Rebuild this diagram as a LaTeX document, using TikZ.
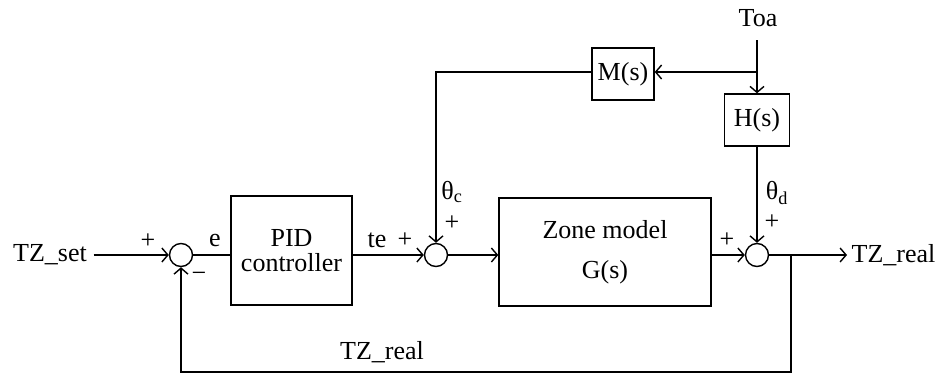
\documentclass[tikz,border=0pt]{standalone}
\usepackage{fontspec}
\setmainfont{Liberation Serif}
\usetikzlibrary{arrows.meta}
\begin{document}
\begin{tikzpicture}[x=1pt,y=-1pt,
  line width=1.4pt,
  every node/.style={font=\fontsize{26}{26}\selectfont, inner sep=0pt},
  sumj/.style={circle, draw, minimum size=23pt, inner sep=0pt},
  blk/.style={draw, align=center},
  arr/.style={-{Straight Barb[length=6pt,width=14pt]}}]
\useasboundingbox[fill=white] (0,0) rectangle (947,378);
% nodes
\node[sumj] (s1) at (181,255) {};
\node[sumj] (s2) at (436,255) {};
\node[sumj] (s3) at (757,255) {};
\node[blk, minimum width=121pt, minimum height=109pt, font=\fontsize{26}{25}\selectfont] (pid) at (291.5,250.5) {PID\\controller};
\node[blk, minimum width=212pt, minimum height=108pt, font=\fontsize{26}{40}\selectfont] (zone) at (605,252) {Zone model\\G(s)};
\node[blk, minimum width=62pt, minimum height=52pt] (M) at (623,74) {M(s)};
\node[blk, minimum width=65pt, minimum height=52pt] (H) at (757,120) {H(s)};
\node (toa) at (758,18) {Toa};
\node (tzset) at (50,255) {TZ\_set};
\node[anchor=west] (tzout) at (851,255) {TZ\_real};
\node (tzfb) at (382,352) {TZ\_real};
\coordinate (top) at (757,40);
\coordinate (j) at (757,72);
\coordinate (mc) at (436,72);
\coordinate (br) at (791,255);
\coordinate (bot) at (791,372);
\coordinate (out) at (847,255);
% labels
\node at (148,241) {+};
\node at (215,240) {e};
\node at (199,277) {−};
\node at (377,240) {te};
\node at (405,240) {+};
\node at (452,192) {θ\textsubscript{c}};
\node at (452,223) {+};
\node at (727,240) {+};
\node at (777,193) {θ\textsubscript{d}};
\node at (772,222) {+};
% connectors
\draw[arr] (tzset.east) ++(6,0) -- (s1.west);
\draw (s1.east) -- (s1.east -| pid.west);
\draw[arr] (s2.west -| pid.east) -- (s2.west);
\draw[arr] (s2.east) -- (s2.east -| zone.west);
\draw[arr] (s3.west -| zone.east) -- (s3.west);
\draw[arr] (s3.east) -- (out);
\draw[arr] (br) -- (bot) -| (s1.south);
\draw[arr] (top) -- (H.north);
\draw[arr] (j) -- (j -| M.east);
\draw[arr] (M.west |- j) -- (mc) -- (s2.north);
\draw[arr] (H.south) -- (s3.north);
\end{tikzpicture}
\end{document}
